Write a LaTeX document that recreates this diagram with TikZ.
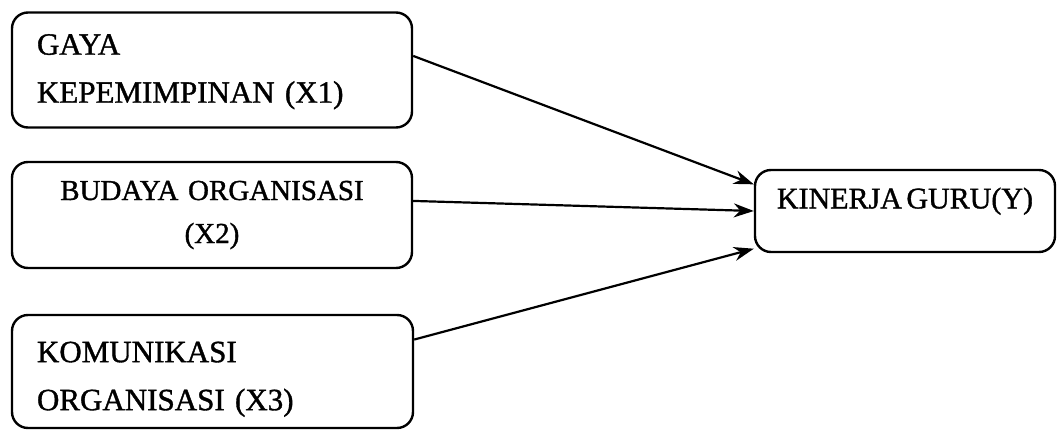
\documentclass[tikz,border=0pt]{standalone}
\usepackage{fontspec}
\setmainfont[FakeBold=1.2,WordSpace=0.6]{Liberation Serif}
\usetikzlibrary{arrows.meta}
\begin{document}
\begin{tikzpicture}[x=1pt,y=-1pt,
  box/.style={draw, line width=2.4pt, rounded corners=16pt, inner sep=0pt,
    font=\fontsize{31}{48}\selectfont},
  link/.style={line width=2.2pt, -{Stealth[length=20pt,width=14pt]}}]
\useasboundingbox (0,0) rectangle (1057,430);
% independent variables
\node[box, minimum width=400pt, minimum height=115pt, text width=350pt, align=left,
  text height=24pt]
  (x1) at (212,70) {GAYA\\KEPEMIMPINAN (X1)};
\node[box, minimum width=400pt, minimum height=106pt, text width=350pt, align=center,
  font=\fontsize{29}{43}\selectfont]
  (x2) at (212,215) {BUDAYA ORGANISASI\\(X2)};
\node[box, minimum width=401pt, minimum height=113pt, text width=351pt, align=left,
  text height=36pt]
  (x3) at (212.5,371.5) {KOMUNIKASI\\ORGANISASI (X3)};
% dependent variable
\node[box, minimum width=300pt, minimum height=82pt, text depth=26pt,
  font=\fontsize{30}{40}\selectfont]
  (y) at (905,211) {KINERJA GURU(Y)};
% influences
\draw[link] (x1.4) -- (y.170);
\draw[link] (x2.4) -- (y.180);
\draw[link] (x3.9) -- (y.194);
\end{tikzpicture}
\end{document}
